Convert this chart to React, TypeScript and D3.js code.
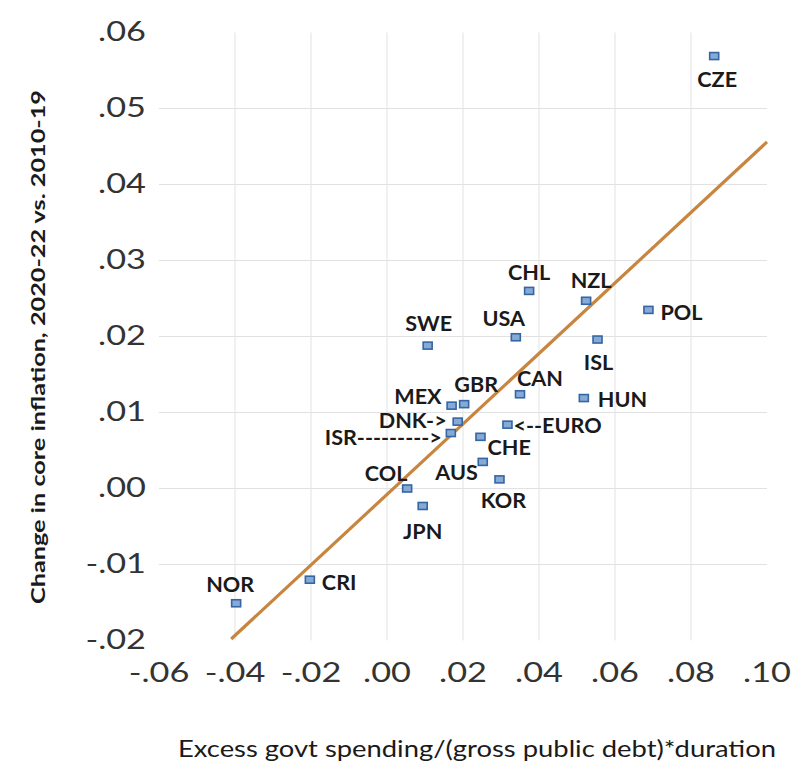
import React from "react";
import * as d3 from "d3";

// ---- data ----
const countries = ["CZE","POL","CHL","NZL","SWE","USA","ISL","CAN","HUN","MEX","GBR","DNK","EURO","ISR","CHE","AUS","KOR","COL","JPN","CRI","NOR"];
const spending = [0.0861,0.0688,0.0374,0.0524,0.0107,0.0339,0.0554,0.0350,0.0518,0.0170,0.0203,0.0186,0.0317,0.0168,0.0246,0.0252,0.0296,0.0053,0.0094,-0.0203,-0.0397];
const inflation = [0.0569,0.0235,0.0260,0.0247,0.0188,0.0199,0.0196,0.0124,0.0119,0.0109,0.0111,0.0088,0.0084,0.0073,0.0068,0.0035,0.0012,0.0000,-0.0023,-0.0120,-0.0151];
const pointLabels = ["CZE","POL","CHL","NZL","SWE","USA","ISL","CAN","HUN","MEX","GBR","DNK->","<--EURO","ISR--------->","CHE","AUS","KOR","COL","JPN","CRI","NOR"];
const trendX = [-0.0410, 0.1000];
const trendY = [-0.0198, 0.0456];
const xTicks = [-0.06,-0.04,-0.02,0.0,0.02,0.04,0.06,0.08,0.10];
const yTicks = [-0.02,-0.01,0.0,0.01,0.02,0.03,0.04,0.05,0.06];
const xTitle = "Excess govt spending/(gross public debt)*duration";
const yTitle = "Change in core inflation, 2020-22 vs. 2010-19";

// ---- layout (label placement relative to marker) ----
const labelPos: Record<string, [number, number, string]> = {
  CZE: [3, 31, "middle"],
  POL: [12, 10, "start"],
  CHL: [0, -11, "middle"],
  NZL: [5, -13, "middle"],
  SWE: [1, -15, "middle"],
  USA: [-12, -11, "middle"],
  ISL: [1, 30, "middle"],
  CAN: [20, -8, "middle"],
  HUN: [14, 8.5, "start"],
  MEX: [-10, -2, "end"],
  GBR: [12, -12, "middle"],
  DNK: [-11, 6.5, "end"],
  EURO: [6, 8, "start"],
  ISR: [-9, 12, "end"],
  CHE: [7, 18, "start"],
  AUS: [-5, 18, "end"],
  KOR: [4, 29, "middle"],
  COL: [-21, -8, "middle"],
  JPN: [0, 33, "middle"],
  CRI: [12, 10, "start"],
  NOR: [-6, -11, "middle"],
};

const W = 795, H = 767;
const FONT = "Lato, 'Liberation Sans', Arial, sans-serif";

function ST({ x, y, sx = 1, anchor = "start", children, ...rest }: any) {
  return (
    <text transform={`translate(${x},${y}) scale(${sx},1)`} textAnchor={anchor} {...rest}>
      {children}
    </text>
  );
}

const fmt = (v: number) => d3.format(".2f")(v).replace("\u2212", "-").replace("0.", ".");

export default function App() {
  const x = d3.scaleLinear().domain([-0.06, 0.10]).range([159, 767]);
  const y = d3.scaleLinear().domain([-0.02, 0.06]).range([640.5, 32.5]);
  const line = d3.line<number>().x((_, i) => x(trendX[i])).y((_, i) => y(trendY[i]));

  return (
    <svg width={W} height={H} style={{ position: "absolute", left: 0, top: 0, background: "#fff" }} fontFamily={FONT}>
      <rect x={0} y={0} width={W} height={H} fill="#fff" />
      {/* gridlines */}
      {xTicks.slice(1, -1).map((t) => (
        <line key={"gx" + t} x1={x(t)} x2={x(t)} y1={y(0.06)} y2={y(-0.02)} stroke="#e2e2e2" strokeWidth={1} />
      ))}
      {yTicks.slice(1, -1).map((t) => (
        <line key={"gy" + t} x1={x(-0.06)} x2={x(0.10)} y1={y(t)} y2={y(t)} stroke="#e2e2e2" strokeWidth={1} />
      ))}
      {/* tick labels */}
      {xTicks.map((t) => (
        <ST key={"tx" + t} x={x(t)} y={682} sx={1.27} anchor="middle" fontSize={27} fill="#333">
          {fmt(t)}
        </ST>
      ))}
      {yTicks.map((t) => (
        <ST key={"ty" + t} x={146} y={y(t) + 8} sx={1.27} anchor="end" fontSize={27} fill="#333">
          {fmt(t)}
        </ST>
      ))}
      {/* trend line */}
      <path d={line(trendX) || ""} fill="none" stroke="#c8853f" strokeWidth={3.2} />
      {/* points */}
      {countries.map((c, i) => (
        <rect key={"p" + c} x={x(spending[i]) - 4.5} y={y(inflation[i]) - 3.5} width={9} height={7}
          fill="#86aad6" stroke="#3565a3" strokeWidth={1.6} />
      ))}
      {/* point labels */}
      {countries.map((c, i) => {
        const [dx, dy, anchor] = labelPos[c];
        return (
          <ST key={"l" + c} x={x(spending[i]) + dx} y={y(inflation[i]) + dy} sx={1.08} anchor={anchor}
            fontSize={20} fontWeight="bold" fill="#1a1a1a">
            {pointLabels[i]}
          </ST>
        );
      })}
      {/* axis titles */}
      <text x={477} y={757} textAnchor="middle" fontSize={23} fill="#1a1a1a" textLength={598} lengthAdjust="spacingAndGlyphs">
        {xTitle}
      </text>
      <text transform="translate(45,347) rotate(-90)" textAnchor="middle" fontSize={18} fontWeight="bold" fill="#1a1a1a"
        textLength={514} lengthAdjust="spacingAndGlyphs">
        {yTitle}
      </text>
    </svg>
  );
}
